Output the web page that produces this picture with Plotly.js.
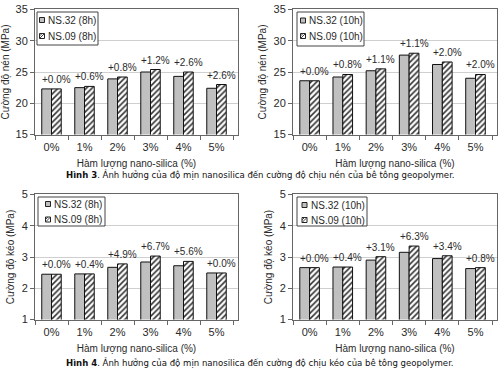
<!DOCTYPE html>
<html>
<head>
<meta charset="utf-8">
<script src="https://cdn.plot.ly/plotly-3.0.1.min.js"></script>
<style>html,body{margin:0;padding:0;background:#fff;}#chart{width:500px;height:368px;}</style>
</head>
<body>
<div id="chart"></div>
<script>
// ---- data ----
const categories = ['0%', '1%', '2%', '3%', '4%', '5%'];

// Hình 3 – compressive strength (MPa)
const ns32_8h_nen  = [22.3, 22.5, 23.9, 25.0, 24.3, 22.4];
const ns09_8h_nen  = [22.3, 22.7, 24.2, 25.4, 25.0, 23.0];
const lbl_8h_nen   = ['+0.0%', '+0.6%', '+0.8%', '+1.2%', '+2.6%', '+2.6%'];
const ns32_10h_nen = [23.6, 24.2, 25.2, 27.7, 26.2, 24.0];
const ns09_10h_nen = [23.6, 24.6, 25.5, 28.0, 26.6, 24.6];
const lbl_10h_nen  = ['+0.0%', '+0.8%', '+1.1%', '+1.1%', '+2.0%', '+2.0%'];

// Hình 4 – tensile strength (MPa)
const ns32_8h_keo  = [2.45, 2.46, 2.67, 2.84, 2.72, 2.49];
const ns09_8h_keo  = [2.45, 2.46, 2.78, 3.03, 2.86, 2.49];
const lbl_8h_keo   = ['+0.0%', '+0.4%', '+4.9%', '+6.7%', '+5.6%', '+0.0%'];
const ns32_10h_keo = [2.66, 2.68, 2.90, 3.15, 2.95, 2.63];
const ns09_10h_keo = [2.66, 2.68, 3.01, 3.35, 3.04, 2.66];
const lbl_10h_keo  = ['+0.0%', '+0.4%', '+3.1%', '+6.3%', '+3.4%', '+0.8%'];

const names_8h  = ['NS.32 (8h)', 'NS.09 (8h)'];
const names_10h = ['NS.32 (10h)', 'NS.09 (10h)'];
const xTitle = 'Hàm lượng nano-silica (%)';
const yTitleNen = 'Cường độ nén (MPa)';
const yTitleKeo = 'Cường độ kéo (MPa)';
const caption3 = '<b>Hình 3</b>. Ảnh hưởng của độ mịn nanosilica đến cường độ chịu nén của bê tông geopolymer.';
const caption4 = '<b>Hình 4</b>. Ảnh hưởng của độ mịn nanosilica đến cường độ chịu kéo của bê tông geopolymer.';

// ---- layout helpers ----
const W = 500, H = 368;
const fx = p => p / W;
const fy = p => 1 - p / H;
const FONT = 'Arial, "Liberation Sans", sans-serif';
const TXT = '#2a2a2a';

const panels = [
  {k: '',  xd: [35, 238],  yd: [9.4, 134.6],   range: [15, 35], dtick: 5, s1: ns32_8h_nen,  s2: ns09_8h_nen,  lab: lbl_8h_nen,  names: names_8h,  yt: yTitleNen,
   leg: {box: [37, 12, 98, 45],  sq: [39.5, 44.5], rows: [20, 36], tx: 46}},
  {k: '2', xd: [293, 497], yd: [9.4, 134.6],   range: [15, 35], dtick: 5, s1: ns32_10h_nen, s2: ns09_10h_nen, lab: lbl_10h_nen, names: names_10h, yt: yTitleNen,
   leg: {box: [297, 12, 364, 46], sq: [300.5, 305.5], rows: [20.5, 36], tx: 307}},
  {k: '3', xd: [35, 238],  yd: [194.4, 319.6], range: [1, 5],   dtick: 1, s1: ns32_8h_keo,  s2: ns09_8h_keo,  lab: lbl_8h_keo,  names: names_8h,  yt: yTitleKeo,
   leg: {box: [38, 197, 105, 226], sq: [45.5, 50.5], rows: [204, 219.5], tx: 52}},
  {k: '4', xd: [293, 497], yd: [194.4, 319.6], range: [1, 5],   dtick: 1, s1: ns32_10h_keo, s2: ns09_10h_keo, lab: lbl_10h_keo, names: names_10h, yt: yTitleKeo,
   leg: {box: [297, 197, 367, 226], sq: [302, 307], rows: [205, 220], tx: 308.5}}
];

const traces = [];
const layout = {
  width: W, height: H,
  margin: {l: 0, r: 0, t: 0, b: 0},
  paper_bgcolor: '#fff', plot_bgcolor: '#fff',
  showlegend: false,
  barmode: 'group', bargap: 0.41, bargroupgap: 0,
  font: {family: FONT, size: 10, color: TXT},
  annotations: [], shapes: []
};

panels.forEach(p => {
  const xa = 'x' + p.k, ya = 'y' + p.k;
  traces.push({
    type: 'bar', x: categories, y: p.s1, name: p.names[0], xaxis: xa, yaxis: ya,
    marker: {color: '#c0c0c0', line: {color: '#111', width: 1}}
  });
  traces.push({
    type: 'bar', x: categories, y: p.s2, name: p.names[1], xaxis: xa, yaxis: ya,
    marker: {color: '#ffffff', line: {color: '#111', width: 1},
             pattern: {shape: '/', fgcolor: '#333', bgcolor: '#ffffff', size: 4, solidity: 0.4}}
  });
  layout['xaxis' + p.k] = {
    domain: [fx(p.xd[0]), fx(p.xd[1])], anchor: ya, type: 'category',
    showline: true, linecolor: '#666', linewidth: 1, mirror: true,
    ticks: 'outside', ticklen: 4, tickcolor: '#666', tickson: 'boundaries',
    ticklabelstandoff: 2,
    showgrid: false, tickfont: {size: 11, color: TXT, family: FONT},
    title: {text: xTitle, font: {size: 10, color: TXT, family: FONT}, standoff: 8},
    fixedrange: true
  };
  layout['yaxis' + p.k] = {
    domain: [fy(p.yd[1]), fy(p.yd[0])], anchor: xa,
    range: p.range, dtick: p.dtick, tick0: p.range[0],
    showline: true, linecolor: '#666', linewidth: 1, mirror: true,
    ticks: 'outside', ticklen: 4, tickcolor: '#666',
    showgrid: true, gridcolor: '#cfcfcf', gridwidth: 1, zeroline: false,
    tickfont: {size: 11, color: TXT, family: FONT},
    title: {text: p.yt, font: {size: 10, color: TXT, family: FONT}, standoff: 5},
    fixedrange: true
  };
  // percentage labels above each group
  categories.forEach((c, i) => {
    layout.annotations.push({
      xref: xa, yref: ya, x: c, y: Math.max(p.s1[i], p.s2[i]),
      text: p.lab[i], showarrow: false, xanchor: 'center', yanchor: 'middle',
      xshift: 5, yshift: 9.5, font: {size: 10, color: TXT, family: FONT}
    });
  });
  // legend box
  const L = p.leg;
  layout.shapes.push({type: 'rect', xref: 'paper', yref: 'paper',
    x0: fx(L.box[0]), x1: fx(L.box[2]), y0: fy(L.box[3]), y1: fy(L.box[1]),
    line: {color: '#444', width: 1}, fillcolor: '#fff'});
  // legend symbols
  const h = 2.5;
  layout.shapes.push({type: 'rect', xref: 'paper', yref: 'paper',
    x0: fx(L.sq[0]), x1: fx(L.sq[1]), y0: fy(L.rows[0] + h), y1: fy(L.rows[0] - h),
    line: {color: '#222', width: 1}, fillcolor: '#c0c0c0'});
  layout.shapes.push({type: 'rect', xref: 'paper', yref: 'paper',
    x0: fx(L.sq[0]), x1: fx(L.sq[1]), y0: fy(L.rows[1] + h), y1: fy(L.rows[1] - h),
    line: {color: '#222', width: 1}, fillcolor: '#fff'});
  layout.shapes.push({type: 'line', xref: 'paper', yref: 'paper',
    x0: fx(L.sq[0]), x1: fx(L.sq[1]), y0: fy(L.rows[1] + h), y1: fy(L.rows[1] - h),
    line: {color: '#444', width: 1}});
  layout.shapes.push({type: 'line', xref: 'paper', yref: 'paper',
    x0: fx(L.sq[0]), x1: fx((L.sq[0] + L.sq[1]) / 2), y0: fy(L.rows[1]), y1: fy(L.rows[1] - h),
    line: {color: '#444', width: 1}});
  // legend labels
  p.names.forEach((n, j) => {
    layout.annotations.push({
      xref: 'paper', yref: 'paper', x: fx(L.tx), y: fy(L.rows[j]),
      text: n, showarrow: false, xanchor: 'left', yanchor: 'middle',
      font: {size: 10, color: TXT, family: FONT}
    });
  });
});

// figure captions
[[caption3, 174.5], [caption4, 363]].forEach(([t, yp]) => {
  layout.annotations.push({
    xref: 'paper', yref: 'paper', x: fx(260), y: fy(yp), text: t,
    showarrow: false, xanchor: 'center', yanchor: 'middle',
    font: {size: 9.5, color: '#111', family: '"Liberation Sans Narrow", "DejaVu Sans Condensed", "Roboto Condensed", Arial, sans-serif'}
  });
});

Plotly.newPlot('chart', traces, layout, {staticPlot: true, displayModeBar: false});
</script>
</body>
</html>
